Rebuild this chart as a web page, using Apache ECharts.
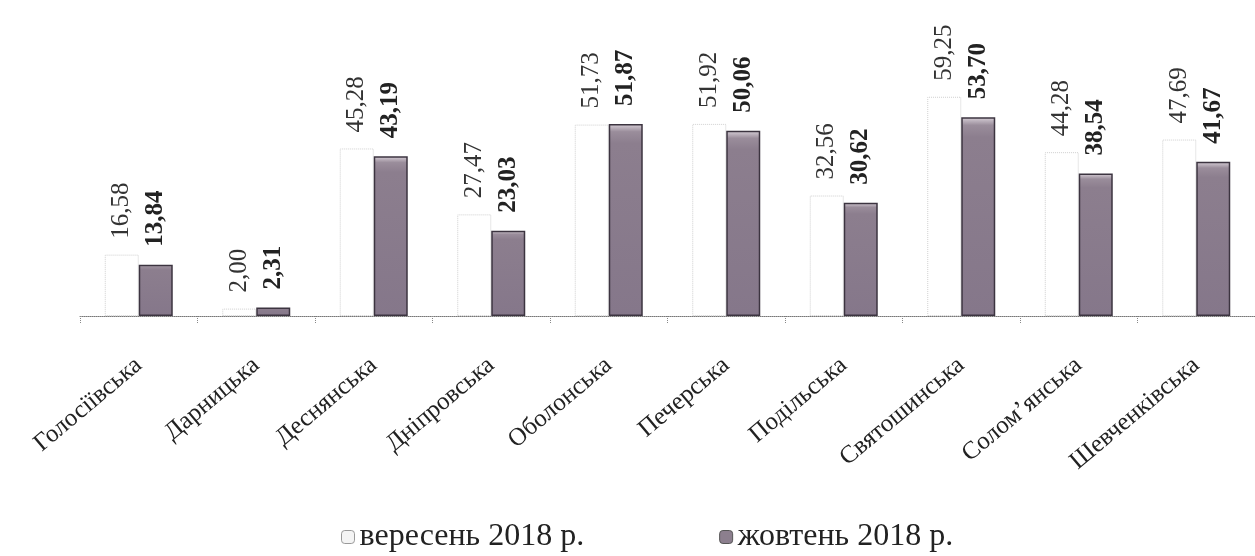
<!DOCTYPE html>
<html>
<head>
<meta charset="utf-8">
<script src="https://cdn.jsdelivr.net/npm/echarts@6/dist/echarts.min.js"></script>
<style>html,body{margin:0;padding:0;background:#fff}#c{width:1255px;height:556px}</style>
</head>
<body>
<div id="c"></div>
<script>
const categories = ['Голосіївська','Дарницька','Деснянська','Дніпровська','Оболонська','Печерська','Подільська','Святошинська','Солом’янська','Шевченківська'];
const sep2018 = [16.58, 2.00, 45.28, 27.47, 51.73, 51.92, 32.56, 59.25, 44.28, 47.69];
const oct2018 = [13.84, 2.31, 43.19, 23.03, 51.87, 50.06, 30.62, 53.70, 38.54, 41.67];
const seriesNames = ['вересень 2018 р.', 'жовтень 2018 р.'];

const fmt = p => p.value.toFixed(2).replace('.', ',');
const font = 'Liberation Serif, Times New Roman, serif';

const chart = echarts.init(document.getElementById('c'));
chart.setOption({
  animation: false,
  textStyle: { fontFamily: font },
  grid: { left: 80, right: 0, top: 20, bottom: 240 },
  legend: {
    top: 516, left: 336,
    itemGap: 135, itemWidth: 13, itemHeight: 13,
    textStyle: { fontFamily: font, fontSize: 32, color: '#222' },
    data: [
      { name: seriesNames[0], itemStyle: { color: '#f4f4f4', borderColor: '#999', borderWidth: 1 } },
      { name: seriesNames[1], itemStyle: { color: '#8c7f8e', borderColor: '#555', borderWidth: 1 } }
    ]
  },
  xAxis: {
    type: 'category',
    data: categories,
    axisLine: { lineStyle: { color: '#777', type: 'dotted', width: 1 } },
    axisTick: { show: true, length: 8, lineStyle: { color: '#888', type: 'dotted' } },
    axisLabel: { rotate: 40, margin: 46, fontFamily: font, fontSize: 25, color: '#222', interval: 0 }
  },
  yAxis: { type: 'value', min: 0, max: 80, show: false, splitLine: { show: false } },
  series: [
    {
      name: seriesNames[0], type: 'bar', data: sep2018,
      barWidth: 34, barGap: '0%',
      itemStyle: { color: '#ffffff', borderColor: '#cfcfcf', borderWidth: 1, borderType: 'dotted' },
      label: { show: true, position: 'top', rotate: 90, align: 'left', verticalAlign: 'middle',
               distance: 16, formatter: fmt, fontFamily: font, fontSize: 25, color: '#333' }
    },
    {
      name: seriesNames[1], type: 'bar', data: oct2018,
      barWidth: 34,
      itemStyle: {
        color: { type: 'linear', x: 0, y: 0, x2: 0, y2: 1,
                 colorStops: [ { offset: 0, color: '#d8d0d8' }, { offset: 0.04, color: '#9a8d9b' }, { offset: 0.1, color: '#8c7e8e' }, { offset: 1, color: '#85778a' } ],
                 global: false },
        borderColor: '#3c3440', borderWidth: 1.5
      },
      label: { show: true, position: 'top', rotate: 90, align: 'left', verticalAlign: 'middle',
               distance: 18, formatter: fmt, fontFamily: font, fontSize: 25, fontWeight: 'bold', color: '#222' }
    }
  ]
});
</script>
</body>
</html>
